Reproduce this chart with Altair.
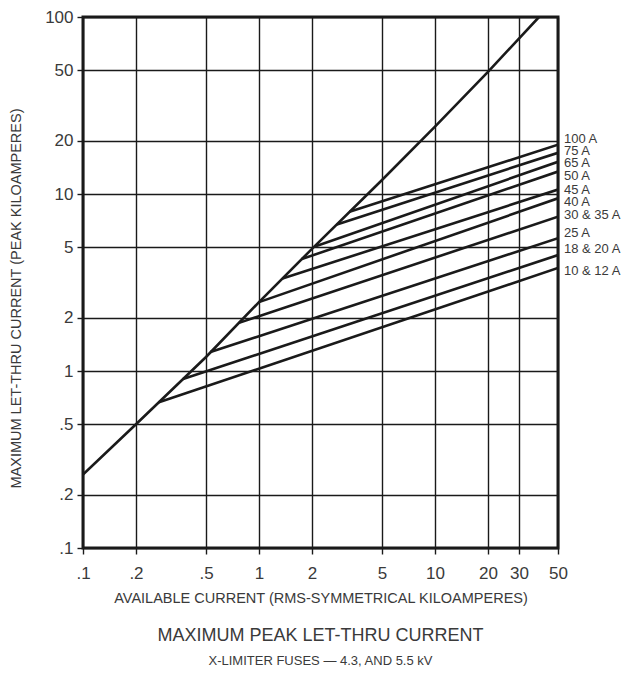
import altair as alt
import pandas as pd

# Diagonal (unlimited peak current)
diag_x = [0.1, 0.2, 0.5, 1.0, 2.0, 5.0, 10.0, 20.0, 39.0]
diag_y = [0.26, 0.5, 1.2, 2.45, 4.9, 12.0, 24.0, 49.0, 100.0]

# Fuse curves: knee on the diagonal -> value at the right edge (50 kA)
fuse_labels = ["100 A", "75 A", "65 A", "50 A", "45 A", "40 A",
               "30 & 35 A", "25 A", "18 & 20 A", "10 & 12 A"]
knee_x = [3.27, 2.77, 2.06, 1.75, 1.36, 1.0, 0.77, 0.53, 0.37, 0.27]
knee_y = [7.93, 6.73, 5.04, 4.29, 3.33, 2.45, 1.87, 1.28, 0.90, 0.666]
end_x = 50.0
end_y = [19.0, 17.1, 15.2, 13.4, 10.6, 9.45, 7.45, 5.63, 4.52, 3.82]
label_y = [20.4, 17.5, 14.9, 12.7, 10.6, 8.96, 7.57, 6.03, 4.87, 3.68]

x_ticks = [0.1, 0.2, 0.5, 1, 2, 5, 10, 20, 30, 50]
y_ticks = [0.1, 0.2, 0.5, 1, 2, 5, 10, 20, 50, 100]

rows = []
for i, (x, y) in enumerate(zip(diag_x, diag_y)):
    rows.append({"series": "diag", "x": x, "y": y, "o": i})
for name, kx, ky, ey in zip(fuse_labels, knee_x, knee_y, end_y):
    rows.append({"series": name, "x": kx, "y": ky, "o": 0})
    rows.append({"series": name, "x": end_x, "y": ey, "o": 1})
lines_df = pd.DataFrame(rows)
labels_df = pd.DataFrame({"label": fuse_labels, "x": [end_x] * len(fuse_labels), "y": label_y})

FONT = "Liberation Sans"
INK = "#1a1a1a"
TXT = "#3a3a3a"

label_expr = "datum.value < 1 ? '.' + round(datum.value * 10) : '' + datum.value"

xscale = alt.Scale(type="log", domain=[0.1, 50], nice=False)
yscale = alt.Scale(type="log", domain=[0.1, 100], nice=False)

common_axis = dict(
    domain=False, grid=True, gridColor=INK, gridWidth=1.4, gridOpacity=1,
    tickColor=INK, tickSize=6, tickWidth=1.4,
    labelFont=FONT, titleFont=FONT, labelColor=TXT, titleColor=TXT,
    labelFontSize=17, titleFontSize=14.5, titleFontWeight="normal",
    labelFlush=False, labelOverlap=False, titleBaseline="middle",
)

xaxis = alt.Axis(values=x_ticks, labelExpr=label_expr,
                 title="AVAILABLE CURRENT (RMS-SYMMETRICAL KILOAMPERES)",
                 labelPadding=11, titleY=50, **common_axis)
yaxis = alt.Axis(values=y_ticks, labelExpr=label_expr,
                 title="MAXIMUM LET-THRU CURRENT (PEAK KILOAMPERES)",
                 labelPadding=4, titleX=-66.5, titleY=281, **common_axis)

lines = alt.Chart(lines_df).mark_line(color=INK, strokeWidth=2.6, clip=True).encode(
    x=alt.X("x:Q", scale=xscale, axis=xaxis),
    y=alt.Y("y:Q", scale=yscale, axis=yaxis),
    detail="series:N",
    order="o:Q",
)

texts = alt.Chart(labels_df).mark_text(align="left", baseline="middle", dx=6, fontSize=13,
                                       font=FONT, color=TXT).encode(
    x=alt.X("x:Q", scale=xscale),
    y=alt.Y("y:Q", scale=yscale),
    text="label:N",
)

chart = alt.layer(lines, texts).properties(
    width=475,
    height=531,
    background="white",
    padding={"left": 0, "top": 0, "right": 0, "bottom": 5},
    title=alt.TitleParams(
        "MAXIMUM PEAK LET-THRU CURRENT",
        subtitle="X-LIMITER FUSES — 4.3, AND 5.5 kV",
        orient="bottom", anchor="middle", fontSize=18, fontWeight="normal",
        subtitleFontSize=13, offset=22, subtitlePadding=10,
        color=TXT, subtitleColor=TXT, font=FONT, subtitleFont=FONT,
    ),
).configure_view(
    stroke=INK, strokeWidth=3
)

chart.save("out.html", embed_options={"renderer": "svg", "actions": False})
